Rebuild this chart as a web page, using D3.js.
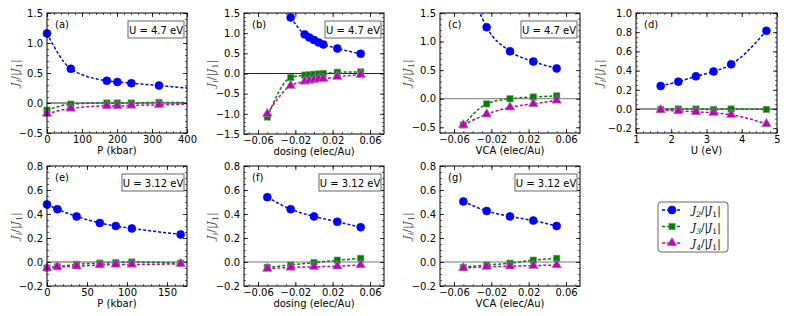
<!DOCTYPE html>
<html>
<head>
<meta charset="utf-8">
<script src="https://cdn.jsdelivr.net/npm/d3@7"></script>
<style>
  body { margin: 0; background: #fff; }
  svg { display: block; }
  text { font-family: "DejaVu Sans", sans-serif; }
  .math { font-family: "DejaVu Serif", serif; font-style: italic; }
</style>
</head>
<body>
<div id="chart"></div>
<script>
// ---- data ----
// (a) pressure, U = 4.7 eV
const P_a = [0, 68, 171, 201, 241, 320];
const J2_a = [1.16, 0.57, 0.37, 0.35, 0.33, 0.29];
const J3_a = [-0.12, -0.02, 0.0, 0.0, 0.0, 0.01];
const J4_a = [-0.18, -0.09, -0.05, -0.05, -0.04, -0.03];
const P_a_end = 400;                       // dashed fit continues to here
const J_a_end = [0.25, 0.01, -0.02];

// (b) dosing, U = 4.7 eV
const dose_b = [-0.05, -0.025, -0.01, -0.005, 0, 0.005, 0.01, 0.025, 0.05];
const J2_b = [null, 1.39, 0.97, 0.89, 0.83, 0.77, 0.72, 0.62, 0.49];
const J3_b = [-1.08, -0.10, -0.04, -0.03, -0.02, -0.01, 0.0, 0.03, 0.04];
const J4_b = [-1.0, -0.30, -0.20, -0.18, -0.16, -0.14, -0.13, -0.08, -0.03];

// (c) VCA, U = 4.7 eV
const vca_c = [-0.05, -0.025, 0, 0.025, 0.05];
const J2_c = [null, 1.25, 0.83, 0.65, 0.53];
const J3_c = [-0.46, -0.09, 0.0, 0.03, 0.05];
const J4_c = [-0.46, -0.27, -0.15, -0.09, -0.03];
const vca_c_start = -0.034;               // blue fit leaves the top here
const J2_c_start = 1.56;

// (d) U dependence
const U_d = [1.7, 2.2, 2.7, 3.2, 3.7, 4.7];
const J2_d = [0.24, 0.285, 0.34, 0.39, 0.465, 0.815];
const J3_d = [-0.005, 0.0, 0.0, -0.005, 0.0, -0.005];
const J4_d = [-0.01, -0.02, -0.03, -0.04, -0.06, -0.155];

// (e) pressure, U = 3.12 eV
const P_e = [0, 13, 37, 66, 86, 106, 167];
const J2_e = [0.48, 0.44, 0.38, 0.325, 0.30, 0.28, 0.23];
const J3_e = [-0.05, -0.04, -0.02, -0.01, -0.005, 0.0, -0.01];
const J4_e = [-0.05, -0.04, -0.035, -0.025, -0.02, -0.02, -0.015];

// (f) dosing, U = 3.12 eV
const dose_f = [-0.05, -0.025, 0, 0.025, 0.05];
const J2_f = [0.54, 0.44, 0.38, 0.335, 0.29];
const J3_f = [-0.045, -0.025, -0.005, 0.015, 0.03];
const J4_f = [-0.055, -0.045, -0.04, -0.035, -0.025];

// (g) VCA, U = 3.12 eV
const vca_g = [-0.05, -0.025, 0, 0.025, 0.05];
const J2_g = [0.505, 0.425, 0.38, 0.345, 0.30];
const J3_g = [-0.045, -0.025, -0.01, 0.015, 0.03];
const J4_g = [-0.05, -0.04, -0.035, -0.03, -0.025];

const seriesNames = ["2", "3", "4"];
const colors = ["#0000ff", "#007f00", "#bf00bf"];
const markers = [d3.symbolCircle, d3.symbolSquare, d3.symbolTriangle];
const markerSizes = [50, 42, 40];

const W = 789, H = 316;
const svg = d3.select("#chart").append("svg").attr("width", W).attr("height", H);

function pts(xs, ys) {
  return xs.map((x, i) => [x, ys[i]]).filter(d => d[1] != null);
}

const panels = [
  { id: "a", left: 47, top: 13, w: 140, h: 120, xd: [0, 400], xt: [0, 100, 200, 300, 400], xm: 20,
    yd: [-0.5, 1.5], yt: [-0.5, 0, 0.5, 1.0, 1.5], ym: 0.1, xlabel: "P (kbar)", U: "U = 4.7 eV",
    zero: "#222", ylo: 28,
    series: [P_a, J2_a, J3_a, J4_a], fmtX: d3.format("d"),
    ext: (i, p) => p.concat([[P_a_end, J_a_end[i]]]) },
  { id: "b", left: 244, top: 13, w: 140, h: 121, xd: [-0.075, 0.075], xt: [-0.06, -0.02, 0.02, 0.06], xm: 0.01,
    yd: [-1.5, 1.5], yt: [-1.5, -1.0, -0.5, 0, 0.5, 1.0, 1.5], ym: 0.1, xlabel: "dosing (elec/Au)", U: "U = 4.7 eV",
    zero: "#222", ylo: 29,
    series: [dose_b, J2_b, J3_b, J4_b], fmtX: d3.format(".2f") },
  { id: "c", left: 440, top: 13, w: 140, h: 120, xd: [-0.075, 0.075], xt: [-0.06, -0.02, 0.02, 0.06], xm: 0.01,
    yd: [-0.6, 1.5], yt: [-0.5, 0, 0.5, 1.0, 1.5], ym: 0.1, xlabel: "VCA (elec/Au)", U: "U = 4.7 eV",
    zero: "#777", ylo: 29,
    series: [vca_c, J2_c, J3_c, J4_c], fmtX: d3.format(".2f"),
    ext: (i, p) => i === 0 ? [[vca_c_start, J2_c_start]].concat(p) : p },
  { id: "d", left: 636, top: 13, w: 141, h: 120, xd: [1, 5], xt: [1, 2, 3, 4, 5], xm: 0.2,
    yd: [-0.25, 1.0], yt: [-0.2, 0, 0.2, 0.4, 0.6, 0.8, 1.0], ym: 0.05, xlabel: "U (eV)", U: null,
    zero: "#222", ylo: 33,
    series: [U_d, J2_d, J3_d, J4_d], fmtX: d3.format("d") },
  { id: "e", left: 47, top: 166, w: 140, h: 120, xd: [0, 175], xt: [0, 50, 100, 150], xm: 10,
    yd: [-0.2, 0.8], yt: [-0.2, 0, 0.2, 0.4, 0.6, 0.8], ym: 0.05, xlabel: "P (kbar)", U: "U = 3.12 eV",
    zero: "#555", ylo: 28,
    series: [P_e, J2_e, J3_e, J4_e], fmtX: d3.format("d") },
  { id: "f", left: 244, top: 166, w: 140, h: 120, xd: [-0.075, 0.075], xt: [-0.06, -0.02, 0.02, 0.06], xm: 0.01,
    yd: [-0.2, 0.8], yt: [-0.2, 0, 0.2, 0.4, 0.6, 0.8], ym: 0.05, xlabel: "dosing (elec/Au)", U: "U = 3.12 eV",
    zero: "#777", ylo: 29,
    series: [dose_f, J2_f, J3_f, J4_f], fmtX: d3.format(".2f") },
  { id: "g", left: 440, top: 166, w: 140, h: 120, xd: [-0.075, 0.075], xt: [-0.06, -0.02, 0.02, 0.06], xm: 0.01,
    yd: [-0.2, 0.8], yt: [-0.2, 0, 0.2, 0.4, 0.6, 0.8], ym: 0.05, xlabel: "VCA (elec/Au)", U: "U = 3.12 eV",
    zero: "#777", ylo: 29,
    series: [vca_g, J2_g, J3_g, J4_g], fmtX: d3.format(".2f") }
];

function minorTicks(domain, step) {
  const out = [];
  const start = Math.ceil(domain[0] / step - 1e-9);
  for (let k = start; k * step <= domain[1] + 1e-9; k++) out.push(+(k * step).toFixed(6));
  return out;
}

// J_i/|J_1| style label
function jLabel(sel, sub) {
  sel.append("tspan").text("J");
  sel.append("tspan").attr("dy", 3).attr("font-size", "0.72em").text(sub);
  sel.append("tspan").attr("dy", -3).attr("font-style", "normal").text("/|");
  sel.append("tspan").text("J");
  sel.append("tspan").attr("dy", 3).attr("font-size", "0.72em").attr("font-style", "normal").text("1");
  sel.append("tspan").attr("dy", -3).attr("font-style", "normal").text("|");
}

panels.forEach(p => {
  const x = d3.scaleLinear().domain(p.xd).range([0, p.w]);
  const y = d3.scaleLinear().domain(p.yd).range([p.h, 0]);
  const g = svg.append("g").attr("transform", `translate(${p.left},${p.top})`);

  g.append("clipPath").attr("id", "clip-" + p.id)
    .append("rect").attr("width", p.w).attr("height", p.h);

  // zero line
  g.append("line").attr("x1", 0).attr("x2", p.w).attr("y1", y(0)).attr("y2", y(0))
    .attr("stroke", p.zero).attr("stroke-width", 1);

  // axes: ticks point inward on all four sides
  const yFmt = d3.format(".1f");
  const axes = [
    [d3.axisBottom(x).tickValues(p.xt).tickFormat(p.fmtX), `translate(0,${p.h})`],
    [d3.axisTop(x).tickValues(p.xt).tickFormat(""), null],
    [d3.axisLeft(y).tickValues(p.yt).tickFormat(yFmt), null],
    [d3.axisRight(y).tickValues(p.yt).tickFormat(""), `translate(${p.w},0)`]
  ];
  axes.forEach(([ax, tr], k) => {
    const a = g.append("g").call(ax.tickSizeInner(-4).tickSizeOuter(0).tickPadding(k === 0 ? 3 : 4));
    if (tr) a.attr("transform", tr);
    a.select(".domain").remove();
    a.selectAll("line").attr("stroke", "#000").attr("stroke-width", 0.8);
    a.selectAll("text").attr("font-size", 10).attr("fill", "#000")
      .attr("font-family", "DejaVu Sans, sans-serif");
  });
  const mx = minorTicks(p.xd, p.xm), my = minorTicks(p.yd, p.ym);
  [[d3.axisBottom(x).tickValues(mx), `translate(0,${p.h})`],
   [d3.axisTop(x).tickValues(mx), null],
   [d3.axisLeft(y).tickValues(my), null],
   [d3.axisRight(y).tickValues(my), `translate(${p.w},0)`]].forEach(([ax, tr]) => {
    const a = g.append("g").call(ax.tickSizeInner(-2).tickSizeOuter(0).tickFormat(""));
    if (tr) a.attr("transform", tr);
    a.select(".domain").remove();
    a.selectAll("line").attr("stroke", "#000").attr("stroke-width", 0.6);
  });

  // series
  const xs = p.series[0];
  const line = d3.line().x(d => x(d[0])).y(d => y(d[1])).curve(d3.curveMonotoneX);
  for (let i = 0; i < 3; i++) {
    const data = pts(xs, p.series[i + 1]);
    const lineData = p.ext ? p.ext(i, data) : data;
    g.append("path").datum(lineData)
      .attr("clip-path", `url(#clip-${p.id})`)
      .attr("d", line).attr("fill", "none")
      .attr("stroke", colors[i]).attr("stroke-width", 1.5)
      .attr("stroke-dasharray", "3,2");
    g.selectAll(null).data(data).enter().append("path")
      .attr("transform", d => `translate(${x(d[0])},${y(d[1])})`)
      .attr("d", d3.symbol().type(markers[i]).size(markerSizes[i]))
      .attr("fill", colors[i])
      .attr("stroke", i === 0 ? colors[i] : "#999")
      .attr("stroke-width", 0.6);
  }

  // frame
  g.append("rect").attr("width", p.w).attr("height", p.h)
    .attr("fill", "none").attr("stroke", "#000").attr("stroke-width", 1);

  // panel letter
  g.append("text").attr("x", 8).attr("y", 15).attr("font-size", 10).text(`(${p.id})`);

  // U box
  if (p.U) {
    const bw = p.U.length > 10 ? 62 : 56;
    const bx = p.w - 3 - bw;
    g.append("rect").attr("x", bx).attr("y", 8).attr("width", bw).attr("height", 17)
      .attr("fill", "#fff").attr("stroke", "#666").attr("stroke-width", 1);
    g.append("text").attr("x", bx + bw / 2).attr("y", 20.5).attr("text-anchor", "middle")
      .attr("font-size", 10).text(p.U);
  }

  // axis labels
  g.append("text").attr("x", p.w / 2).attr("y", p.h + 21).attr("text-anchor", "middle")
    .attr("font-size", 10).text(p.xlabel);
  const yl = g.append("text").attr("class", "math")
    .attr("transform", `translate(${-p.ylo},${p.h / 2}) rotate(-90)`)
    .attr("text-anchor", "middle").attr("font-size", 11).attr("fill", "#555");
  jLabel(yl, "i");
});

// legend
const lg = svg.append("g").attr("transform", "translate(658,202)");
lg.append("rect").attr("width", 70).attr("height", 50).attr("rx", 3)
  .attr("fill", "#fff").attr("stroke", "#666").attr("stroke-width", 1);
seriesNames.forEach((s, i) => {
  const yy = 8 + i * 16.5;
  lg.append("line").attr("x1", 4).attr("x2", 24).attr("y1", yy).attr("y2", yy)
    .attr("stroke", colors[i]).attr("stroke-width", 1.5).attr("stroke-dasharray", "3,2");
  lg.append("path").attr("transform", `translate(14,${yy})`)
    .attr("d", d3.symbol().type(markers[i]).size(markerSizes[i]))
    .attr("fill", colors[i]).attr("stroke", i === 0 ? colors[i] : "#999").attr("stroke-width", 0.6);
  const t = lg.append("text").attr("class", "math").attr("x", 34).attr("y", yy + 4)
    .attr("font-size", 10.5).attr("fill", "#000");
  jLabel(t, s);
});
</script>
</body>
</html>
